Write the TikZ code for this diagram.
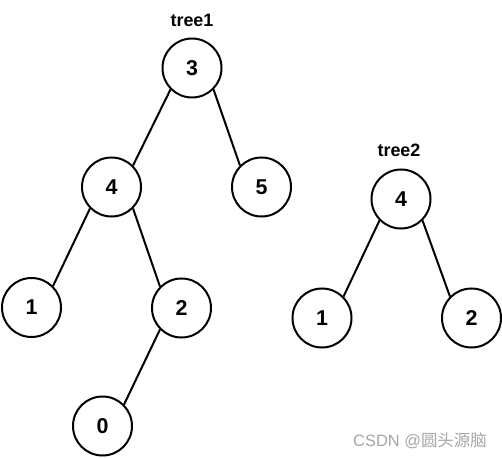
\documentclass[tikz,border=0pt]{standalone}
\usepackage{fontspec}
\setmainfont{Liberation Sans}
\newfontfamily\cjkfont{Noto Sans CJK SC}
\begin{document}
\begin{tikzpicture}[x=1bp,y=-1bp,
  tnode/.style={circle,draw=black,line width=2bp,minimum size=59bp,inner sep=0pt,font=\fontsize{21.5}{24}\selectfont\bfseries},
  tlabel/.style={anchor=base,font=\fontsize{18}{20}\selectfont\bfseries},
  tedge/.style={line width=2bp,black}]
\useasboundingbox (0,0) rectangle (502,458);
% tree1
\node[tlabel] (t1) at (192,27) {tree1};
\node[tnode] (a3) at (192,68) {3};
\node[tnode] (a4) at (111.5,187) {4};
\node[tnode] (a5) at (261.5,187) {5};
\node[tnode] (a1) at (31.5,307.5) {1};
\node[tnode] (a2) at (181.5,308) {2};
\node[tnode] (a0) at (102.5,426) {0};
\draw[tedge] (a3.south west) -- (a4.north east);
\draw[tedge] (a3.south east) -- (a5.north west);
\draw[tedge] (a4.south west) -- (a1.north east);
\draw[tedge] (a4.south east) -- (a2.north west);
\draw[tedge] (a2.south west) -- (a0.north east);
% tree2
\node[tlabel] (t2) at (399,157) {tree2};
\node[tnode] (b4) at (401,199) {4};
\node[tnode] (b1) at (322,318) {1};
\node[tnode] (b2) at (471.5,318) {2};
\draw[tedge] (b4.south west) -- (b1.north east);
\draw[tedge] (b4.south east) -- (b2.north west);
% watermark
\node[anchor=base,text=black!35,font=\fontsize{16.5}{18}\selectfont] (wm) at (420,446) {CSDN @{\cjkfont 圆头源脑}};
\end{tikzpicture}
\end{document}
